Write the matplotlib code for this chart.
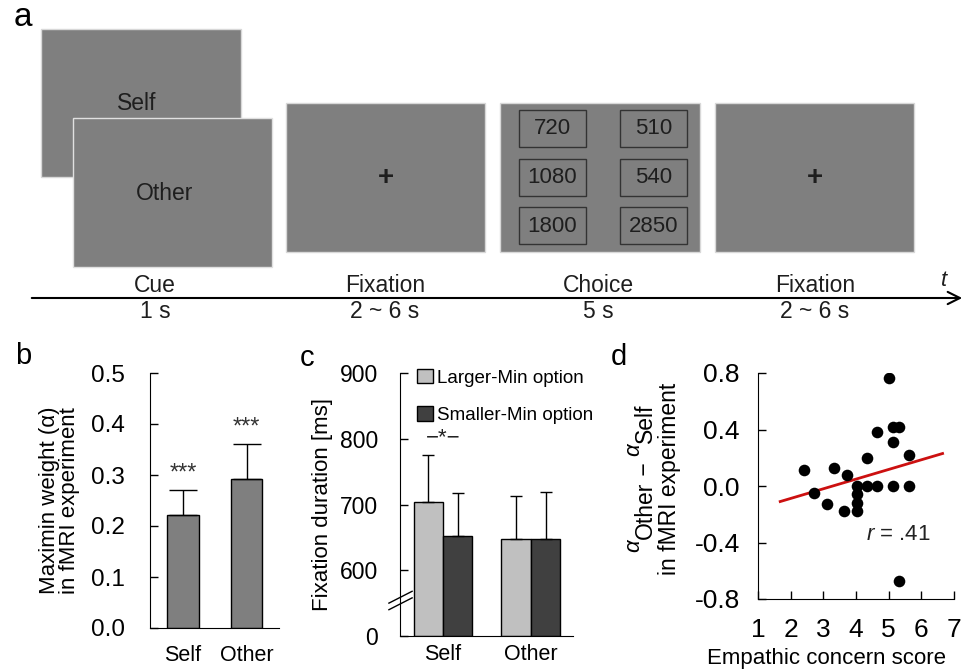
import matplotlib
matplotlib.use("Agg")
import matplotlib.pyplot as plt
from matplotlib.patches import Rectangle, Patch
from matplotlib.transforms import blended_transform_factory

plt.rcParams['font.family'] = ['Liberation Sans', 'DejaVu Sans']
plt.rcParams['mathtext.fontset'] = 'custom'
plt.rcParams['mathtext.rm'] = 'Liberation Sans'
plt.rcParams['mathtext.it'] = 'Liberation Sans:italic'

# panel a: task timeline
stage_names = ['Cue', 'Fixation', 'Choice', 'Fixation']
stage_durations = ['1 s', '2 ~ 6 s', '5 s', '2 ~ 6 s']
cue_words = ['Self', 'Other']
choice_values = [720, 510, 1080, 540, 1800, 2850]

# panel b: maximin weight
b_groups = ['Self', 'Other']
b_mean = [0.222, 0.293]
b_sem = [0.048, 0.067]
b_stars = ['***', '***']

# panel c: fixation duration
c_groups = ['Self', 'Other']
c_larger = [704, 647]
c_larger_sem = [72, 66]
c_smaller = [652, 647]
c_smaller_sem = [65, 72]

# panel d: empathic concern vs alpha difference
d_x = [2.42, 2.72, 3.12, 3.33, 3.63, 3.73, 4.02, 4.02, 4.02, 4.02, 4.33,
       4.33, 4.65, 4.65, 5.02, 5.12, 5.32, 5.12, 5.63, 5.12, 5.63, 5.32]
d_y = [0.11, -0.05, -0.13, 0.13, -0.18, 0.08, 0.0, -0.06, -0.12, -0.18, 0.20,
       0.0, 0.0, 0.38, 0.765, 0.42, 0.42, 0.31, 0.22, 0.0, 0.0, -0.675]
fit_x = [1.68, 6.65]
fit_y = [-0.11, 0.23]

W, H = 966, 669
fig = plt.figure(figsize=(W / 100, H / 100), dpi=100)

bg = fig.add_axes([0, 0, 1, 1])
bg.set_xlim(0, W)
bg.set_ylim(H, 0)
bg.axis('off')


def px_axes(left, top, right, bottom):
    ax = fig.add_axes([left / W, 1 - bottom / H, (right - left) / W, (bottom - top) / H])
    ax.set_facecolor('none')
    for s in ['top', 'right']:
        ax.spines[s].set_visible(False)
    ax.tick_params(direction='in', length=6, width=1)
    return ax


screen = '#7f7f7f'
txt = '#1e1e1e'
fs_a = 16.5

# cue screens
bg.add_patch(Rectangle((41, 29), 200, 148, fc=screen, ec='#d8d8d8', lw=1))
bg.text(137, 104, cue_words[0], ha='center', va='center', fontsize=fs_a, color=txt)
bg.add_patch(Rectangle((73, 118), 199, 149, fc=screen, ec='#e0e0e0', lw=1))
bg.text(165, 194, cue_words[1], ha='center', va='center', fontsize=fs_a, color=txt)

# fixation / choice screens
for x0 in [286, 715]:
    bg.add_patch(Rectangle((x0, 103), 199, 149, fc=screen, ec='#d8d8d8', lw=1))
    bg.text(x0 + 100, 178, '+', ha='center', va='center', fontsize=20,
            fontweight='bold', color=txt)
bg.add_patch(Rectangle((500, 103), 200, 149, fc=screen, ec='#d8d8d8', lw=1))
for i, v in enumerate(choice_values):
    col, row = i % 2, i // 2
    bx = 519 + col * 101
    by = 110 + row * 48.5
    bg.add_patch(Rectangle((bx, by), 67, 37, fc='none', ec='#333333', lw=1))
    bg.text(bx + 33.5, by + 19, str(v), ha='center', va='center', fontsize=16, color=txt)

# time arrow
bg.annotate('', xy=(965, 298), xytext=(29, 298),
            arrowprops=dict(arrowstyle='->', lw=1.5, color='black', mutation_scale=22))
for cx, name, dur in zip([155, 385, 598, 815], stage_names, stage_durations):
    bg.text(cx, 285, name, ha='center', va='center', fontsize=fs_a, color=txt)
    bg.text(cx, 311, dur, ha='center', va='center', fontsize=fs_a, color=txt)
bg.text(944, 280, 't', ha='center', va='center', fontsize=16, style='italic', color=txt)

# panel labels
for lab, x, y, fs in [('a', 23, 18, 24), ('b', 23, 356, 21), ('c', 307, 358, 21),
                      ('d', 619, 357, 21)]:
    bg.text(x, y, lab, ha='center', va='center', fontsize=fs, color='black')

# ---- panel b
axb = px_axes(150, 373, 279, 628)
xb = [0, 1]
axb.bar(xb, b_mean, width=0.5, color='#7f7f7f', edgecolor='black', lw=1,
        yerr=[[0, 0], b_sem], capsize=10, error_kw=dict(lw=1, capthick=1))
for x, m, e, s in zip(xb, b_mean, b_sem, b_stars):
    axb.text(x, m + e + 0.012, s, ha='center', va='bottom', fontsize=17, color='#333333')
axb.set_xlim(-0.52, 1.51)
axb.set_ylim(0, 0.5)
axb.set_yticks([0, 0.1, 0.2, 0.3, 0.4, 0.5])
axb.set_yticklabels(['0.0', '0.1', '0.2', '0.3', '0.4', '0.5'])
axb.set_xticks(xb)
axb.set_xticklabels(b_groups)
axb.tick_params(axis='x', length=0, pad=12, labelsize=15.5)
axb.tick_params(axis='y', pad=18, labelsize=17.5)
axb.set_ylabel('Maximin weight (α)\nin fMRI experiment', fontsize=16, labelpad=8,
               linespacing=0.95)

# ---- panel c
axc = px_axes(400, 373, 573, 636)
xc = [0, 1]
wc = 0.335
base = 500
axc.bar([x - wc / 2 for x in xc], [v - base for v in c_larger], bottom=base, width=wc,
        color='#c0c0c0', edgecolor='black', lw=1,
        yerr=[[0, 0], c_larger_sem], capsize=4, error_kw=dict(lw=1, capthick=1))
axc.bar([x + wc / 2 for x in xc], [v - base for v in c_smaller], bottom=base, width=wc,
        color='#404040', edgecolor='black', lw=1,
        yerr=[[0, 0], c_smaller_sem], capsize=4, error_kw=dict(lw=1, capthick=1))
axc.text(0, 801, '−*−', ha='center', va='center', fontsize=16, color='#222222')
axc.set_xlim(-0.49, 1.48)
axc.set_ylim(base, 900)
axc.set_yticks([500, 600, 700, 800, 900])
axc.set_yticklabels(['0', '600', '700', '800', '900'])
axc.set_xticks(xc)
axc.set_xticklabels(c_groups)
axc.tick_params(axis='y', pad=16, labelsize=16.5)
axc.tick_params(axis='x', length=0, pad=6, labelsize=15.5)
axc.set_ylabel('Fixation duration [ms]', fontsize=16, labelpad=5)
tr = blended_transform_factory(axc.transAxes, axc.transData)
for y0 in [540, 550]:
    axc.plot([-0.064, 0.07], [y0, y0 + 18], color='black', lw=1, transform=tr, clip_on=False)
handles = [Patch(fc='#c0c0c0', ec='black', lw=1), Patch(fc='#404040', ec='black', lw=1)]
axc.legend(handles, ['Larger-Min option', 'Smaller-Min option'], loc='upper left',
           bbox_to_anchor=(0.1, 1.015), frameon=False, fontsize=13.5, borderpad=0,
           borderaxespad=0, handlelength=0.85, handleheight=0.8, handletextpad=0.2,
           labelspacing=1.05)

# ---- panel d
axd = px_axes(758, 373, 954, 599)
axd.scatter(d_x, d_y, s=70, color='black', zorder=3, lw=0)
axd.plot(fit_x, fit_y, color='#cc1010', lw=2, zorder=2)
axd.text(4.3, -0.34, '$r$ = .41', ha='left', va='center', fontsize=16, color='#222222')
axd.set_xlim(1, 7)
axd.set_ylim(-0.8, 0.8)
axd.set_xticks([1, 2, 3, 4, 5, 6, 7])
axd.set_yticks([-0.8, -0.4, 0.0, 0.4, 0.8])
axd.set_yticklabels(['-0.8', '-0.4', '0.0', '0.4', '0.8'])
axd.tick_params(axis='x', pad=14)
axd.tick_params(axis='y', pad=13)
axd.tick_params(labelsize=19)
axd.set_xlabel('Empathic concern score', fontsize=16, labelpad=4, x=0.35)
axd.set_ylabel('in fMRI experiment', fontsize=16.5, labelpad=10, y=0.53)

# first ylabel line: alpha raised in front of each word
prev = bg.text(634, 552, 'α', rotation=90, ha='center', va='bottom',
               fontsize=16, style='italic', color='black')
for piece, dx in [('Other', 8), (' − ', 0), ('α', -8), ('Self', 8)]:
    italic = piece == 'α'
    prev = bg.annotate(piece, xy=(0.5, 1), xycoords=prev, xytext=(dx, 0),
                       textcoords='offset points', rotation=90, ha='center', va='bottom',
                       fontsize=16 if italic else 16.5,
                       style='italic' if italic else 'normal', color='black')

fig.savefig('out.png', dpi=100)
